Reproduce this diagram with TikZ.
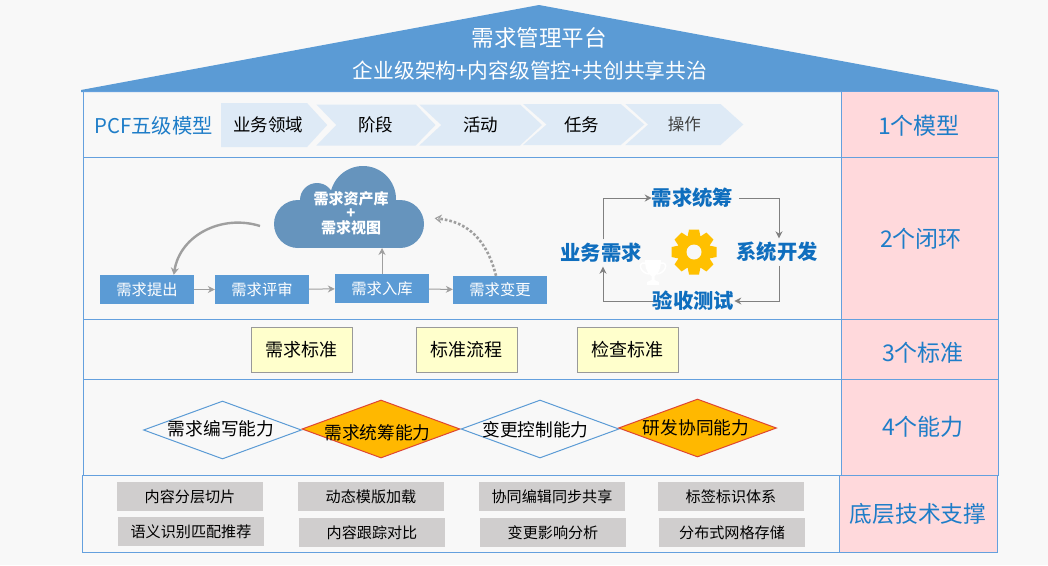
\documentclass[tikz,border=0pt]{standalone}
\usepackage{fontspec}
\setmainfont{Noto Sans CJK SC}
\usepackage{xcolor}
\usetikzlibrary{shapes.geometric, shapes.symbols, arrows.meta, positioning, calc}
\definecolor{pagebg}{RGB}{248,248,248}
\definecolor{roofblue}{RGB}{91,155,213}
\definecolor{frameblue}{RGB}{100,160,222}
\definecolor{chevblue}{RGB}{222,234,246}
\definecolor{cloudblue}{RGB}{102,148,189}
\definecolor{rowpink}{RGB}{255,217,220}
\definecolor{labelblue}{RGB}{30,125,200}
\definecolor{loopblue}{RGB}{15,110,190}
\definecolor{softyellow}{RGB}{255,255,204}
\definecolor{skillorange}{RGB}{255,184,0}
\definecolor{skillred}{RGB}{222,70,50}
\definecolor{techgray}{RGB}{208,206,206}
\definecolor{geargold}{RGB}{255,192,0}
% text in a diamond, moved off the centre: #1 twice the shift left, #2 the raise
\newcommand{\skilltext}[3]{\raisebox{#2}[0pt][0pt]{\makebox[0pt]{\kern-#1 #3}}}

\begin{document}
\begin{tikzpicture}[
  x=1pt, y=-1pt,
  rowbox/.style={rectangle, draw=frameblue, line width=1.1pt, anchor=north west, inner sep=0pt},
  sidebox/.style={rowbox, fill=rowpink},
  sidelabel/.style={font=\fontsize{23}{25}\selectfont, text=labelblue},
  chev/.style={signal, signal to=east, signal from=west, signal pointer angle=92, fill=chevblue,
               minimum height=41pt, inner sep=0pt, anchor=west, font=\fontsize{17.5}{20}\selectfont},
  flowbox/.style={rectangle, fill=roofblue, text=white, minimum width=94pt, minimum height=29pt,
               inner sep=0pt, font=\fontsize{15.3}{17}\selectfont},
  loopnode/.style={font=\bfseries\fontsize{20.3}{22}\selectfont, text=loopblue, inner sep=0pt, minimum height=27pt},
  stdbox/.style={rectangle, draw=gray!80, fill=softyellow, minimum width=101pt, minimum height=45pt,
               inner sep=0pt, font=\fontsize{18}{20}\selectfont},
  skill/.style={diamond, aspect=2.74, inner sep=0pt, minimum width=158pt, minimum height=58pt,
               line width=1pt, font=\fontsize{17.7}{20}\selectfont},
  skillplain/.style={skill, draw=roofblue},
  skillhot/.style={skill, draw=skillred, fill=skillorange},
  techbox/.style={rectangle, fill=techgray, minimum width=146pt, minimum height=29pt,
               inner sep=0pt, font=\fontsize{15.1}{17}\selectfont},
  arr/.style={-{Stealth[length=7pt, width=7pt]}, draw=gray!75, line width=1pt},
  looparr/.style={-{Stealth[length=7pt, width=7pt]}, draw=gray, line width=1pt}
]
\useasboundingbox (0,0) rectangle (1048,565);
\fill[pagebg] (0,0) rectangle (1048,565);

% ===== Roof =====
\fill[roofblue] (81,90) -- (539,5) -- (998,90) -- (998,92) -- (81,92) -- cycle;
\node[text=white, font=\fontsize{22.5}{25}\selectfont, inner sep=0pt] (title) at (539,38) {需求管理平台};
\node[text=white, font=\fontsize{20.7}{22}\selectfont, inner sep=0pt] (subtitle) at (530,71) {企业级架构+内容级管控+共创共享共治};

% ===== Rows =====
\node[rowbox, minimum width=758pt, minimum height=66pt] (row1) at (83,91) {};
\node[rowbox, minimum width=758pt, minimum height=162pt] (row2) at (83,157) {};
\node[rowbox, minimum width=758pt, minimum height=60pt] (row3) at (83,319) {};
\node[rowbox, minimum width=758pt, minimum height=96pt] (row4) at (83,379) {};
\node[rowbox, minimum width=757pt, minimum height=77pt] (row5) at (82,475) {};

\node[sidebox, minimum width=157pt, minimum height=66pt] (side1) at (841,91) {};
\node[sidebox, minimum width=157pt, minimum height=162pt] (side2) at (841,157) {};
\node[sidebox, minimum width=157pt, minimum height=60pt] (side3) at (841,319) {};
\node[sidebox, minimum width=157pt, minimum height=96pt] (side4) at (841,379) {};
\node[sidebox, minimum width=158pt, minimum height=77pt] (side5) at (839,475) {};

\node[sidelabel] at (919,126) {1个模型};
\node[sidelabel] at (921,239) {2个闭环};
\node[sidelabel] at (923,353) {3个标准};
\node[sidelabel] at (923,427) {4个能力};
\node[sidelabel, font=\fontsize{22.7}{25}\selectfont] at (918,514) {底层技术支撑};

% ===== PCF model row =====
\node[text=labelblue, font=\fontsize{20.3}{22}\selectfont, inner sep=0pt] (pcf) at (153.5,126) {PCF五级模型};
\node[chev, signal from=nowhere, signal pointer angle=95, minimum height=44pt, minimum width=106pt] (domain) at (221,125) {\hspace{8pt}业务领域};
\node[chev, minimum width=119pt] (stage) at (336,125) {阶段};
\node[chev, signal pointer angle=86, minimum width=122.7pt] (activity) at (441,125) {活动};
\node[chev, signal pointer angle=82, minimum width=121.3pt] (task) at (546.3,124.5) {\hspace{-4pt}任务};
\node[chev, signal pointer angle=84, minimum width=118pt, text=black!75, font=\fontsize{16.5}{18}\selectfont] (oper) at (647.8,124.5) {操作};

% ===== Requirement flow =====
\foreach \cx/\cy/\cr in {298/224/24, 400/224/24, 363/199/33, 317/200/17}
  \fill[cloudblue] (\cx,\cy) circle (\cr);
\fill[cloudblue] (298,200) rectangle (400,248);
\node[text=white, font=\bfseries\fontsize{15}{15}\selectfont, align=center, inner sep=0pt] (cloud) at (351,213)
  {需求资产库\\[-0.5pt]+\\[-0.5pt]需求视图};
\coordinate (cloudbot) at (382,248);
\coordinate (cloudleft) at (260,226);
\coordinate (cloudright) at (433,218);

\node[flowbox] (submit) at (147,289.5) {需求提出};
\node[flowbox] (review) at (262,289.5) {需求评审};
\node[flowbox] (store) at (382,288.5) {需求入库};
\node[flowbox, minimum height=28pt] (change) at (500,290) {需求变更};

\draw[arr] (submit) -- (review);
\draw[arr] (review) -- (store);
\draw[arr] (store) -- (change);
\draw[arr] (store) -- (cloudbot);
\draw[arr, line width=2.4pt, -{Stealth[length=7pt, width=8pt]}] (cloudleft) .. controls (222,214) and (180,235) .. ([xshift=74pt]submit.north west);
\draw[arr, line width=2.6pt, dotted, -{Stealth[open, length=7pt, width=9pt, line width=1pt, sep]}]
  ([xshift=-4pt]change.north) .. controls (487,240) and (468,222) .. (cloudright);

% ===== Closed loop =====
\begin{scope}[shift={(653,272)}]
  \fill[white] (-8,-12) -- (8,-12) .. controls (8,0) and (3,3) .. (1.5,4) -- (1.5,8) -- (6,10) -- (6,13)
    -- (-6,13) -- (-6,10) -- (-1.5,8) -- (-1.5,4) .. controls (-3,3) and (-8,0) .. cycle;
  \draw[white, line width=1.5pt] (-8,-9) .. controls (-16,-10) and (-13,1) .. (-4,2)
    (8,-9) .. controls (16,-10) and (13,1) .. (4,2);
\end{scope}

\node[loopnode] (plan) at (692.5,198) {需求统筹};
\node[loopnode] (business) at (601,253) {业务需求};
\node[loopnode] (develop) at (777,252) {系统开发};
\node[loopnode] (accept) at (693.5,301) {验收测试};

\draw[looparr] ([xshift=2pt]business.north) |- (plan.west);
\draw[looparr, shorten <=6pt] (plan.east) -| ([xshift=2pt]develop.north);
\draw[looparr] ([xshift=2pt]develop.south) |- (accept.east);
\draw[looparr] (accept.west) -| ([xshift=2pt]business.south);

\begin{scope}[shift={(694,252)}]
  \foreach \ang in {0,45,...,315}
    \fill[geargold, rotate=\ang] (-5,-22.5) -- (5,-22.5) -- (6.5,-15) -- (-6.5,-15) -- cycle;
  \fill[geargold] (0,0) circle (17);
  \fill[pagebg] (0,0) circle (7.5);
\end{scope}

% ===== Standards =====
\node[stdbox] (stdreq) at (301.5,349.5) {需求标准};
\node[stdbox] (stdflow) at (466.5,349.5) {标准流程};
\node[stdbox] (stdcheck) at (627.5,349.5) {检查标准};

% ===== Skills =====
\node[skillplain] (skillwrite) at (222.5,430) {\skilltext{3pt}{-5.6pt}{需求编写能力}};
\node[skillhot] (skillplan) at (381,429) {\skilltext{7pt}{-10pt}{需求统筹能力}};
\node[skillplain] (skillctrl) at (540,429) {\skilltext{9pt}{-7.3pt}{变更控制能力}};
\node[skillhot] (skilldev) at (697.5,428) {\skilltext{3pt}{-6.3pt}{研发协同能力}};

% ===== Tech support =====
\node[techbox] (tslice) at (190,496.5) {内容分层切片};
\node[techbox] (ttemplate) at (371,496.5) {动态模版加载};
\node[techbox] (tcoedit) at (552,496.5) {协同编辑同步共享};
\node[techbox] (ttag) at (731,496.5) {标签标识体系};
\node[techbox] (tsemantic) at (191,531.5) {语义识别匹配推荐};
\node[techbox] (ttrack) at (372,532.5) {内容跟踪对比};
\node[techbox] (timpact) at (553,532.5) {变更影响分析};
\node[techbox] (tstore) at (732,532.5) {分布式网格存储};

\end{tikzpicture}
\end{document}
